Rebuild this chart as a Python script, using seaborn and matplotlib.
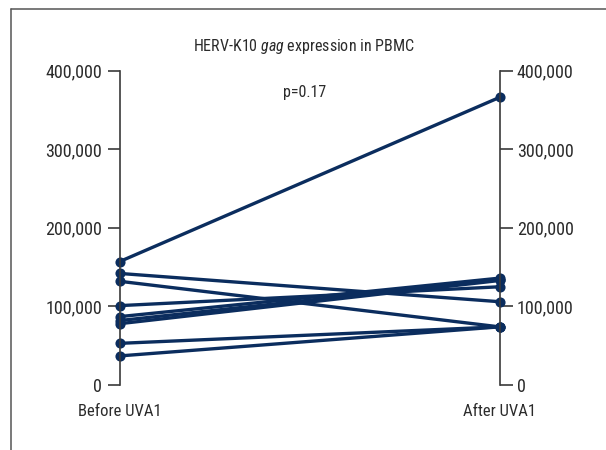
import matplotlib
matplotlib.use("Agg")
import matplotlib.pyplot as plt
from matplotlib import font_manager
from matplotlib.ticker import FuncFormatter
from matplotlib.lines import Line2D
import seaborn as sns
import pandas as pd

# ---- data ----
timepoints = ["Before UVA1", "After UVA1"]
subjects = ["S1", "S2", "S3", "S4", "S5", "S6", "S7", "S8", "S9"]
before = [157000, 142000, 132000, 101000, 87000, 82000, 78000, 53000, 37000]
after = [366000, 106000, 74000, 125000, 136000, 134000, 133000, 74000, 74000]
y_ticks = [0, 100000, 200000, 300000, 400000]
title_text = r"HERV-K10 $\mathit{gag}$ expression in PBMC"
p_text = "p=0.17"

rows = []
for s, b, a in zip(subjects, before, after):
    rows.append({"subject": s, "time": timepoints[0], "value": b})
    rows.append({"subject": s, "time": timepoints[1], "value": a})
df = pd.DataFrame(rows)

sns.set_theme(style="white")

# look for a condensed / narrow sans family
fam = None
stretch = "normal"
names = sorted({f.name for f in font_manager.fontManager.ttflist})
for cand in ["Liberation Sans Narrow", "Roboto Condensed", "Open Sans Condensed",
             "Noto Sans Condensed", "DejaVu Sans Condensed"]:
    if cand in names:
        fam = cand
        break
if fam is None:
    for f in font_manager.fontManager.ttflist:
        if ("Narrow" in f.name or "Condensed" in f.name) and "Mono" not in f.name and "Serif" not in f.name:
            fam = f.name
            break
if fam is None:
    for f in font_manager.fontManager.ttflist:
        if f.stretch in ("condensed", "semi-condensed", 75, 87.5) and "Mono" not in f.name \
                and "Serif" not in f.name and f.style == "normal":
            fam = f.name
            stretch = "condensed"
            break
condensed = fam is not None
if fam is None:
    fam = "Liberation Sans"

plt.rcParams["font.family"] = [fam, "DejaVu Sans"]
plt.rcParams["font.stretch"] = stretch
plt.rcParams["mathtext.fontset"] = "custom"
plt.rcParams["mathtext.rm"] = fam
plt.rcParams["mathtext.it"] = fam + ":italic"

if condensed:
    tick_fs, xlab_fs, title_fs = 13, 12, 11.5
else:
    tick_fs, xlab_fs, title_fs = 11, 10.5, 10.3

text_color = "#2b2b2b"
line_color = "#0b2d5e"
axis_color = "#3a3a3a"

fig = plt.figure(figsize=(6.06, 4.5), dpi=100)
ax = fig.add_axes([119.5 / 606, 1 - 385 / 450, (499.5 - 119.5) / 606, (385 - 70.7) / 450])

sns.lineplot(data=df, x="time", y="value", units="subject", estimator=None,
             color=line_color, marker="o", markersize=7.3, markeredgewidth=0,
             linewidth=2.4, ax=ax, legend=False)
for l in ax.lines:
    l.set_clip_on(False)

ax.set_xlim(0, 1)
ax.set_ylim(0, 400000)
ax.set_yticks(y_ticks)
ax.yaxis.set_major_formatter(FuncFormatter(lambda v, p: f"{int(v):,}"))
ax.set_xlabel("")
ax.set_ylabel("")
ax.set_title("")

for side in ["top", "bottom"]:
    ax.spines[side].set_visible(False)
for side in ["left", "right"]:
    ax.spines[side].set_visible(True)
    ax.spines[side].set_color(axis_color)
    ax.spines[side].set_linewidth(1.2)

ax.tick_params(axis="y", which="both", left=True, right=True, labelleft=True,
               labelright=True, direction="out", length=9, width=1.2,
               color=axis_color, pad=3.5, labelsize=tick_fs, labelcolor=text_color)
ax.tick_params(axis="x", bottom=False, length=0, pad=14, labelsize=xlab_fs, labelcolor=text_color)

fig.text(0.502, 1 - 47 / 450, title_text, ha="center", va="center", fontsize=title_fs, color=text_color)
fig.text(0.503, 1 - 93 / 450, p_text, ha="center", va="center", fontsize=title_fs, color=text_color)

# outer frame (top and left edges)
fig.add_artist(Line2D([10.8 / 606, 1.0], [1 - 8.5 / 450, 1 - 8.5 / 450],
                      transform=fig.transFigure, color="#555555", linewidth=1.1))
fig.add_artist(Line2D([10.8 / 606, 10.8 / 606], [1 - 8.5 / 450, 0.0],
                      transform=fig.transFigure, color="#555555", linewidth=1.1))

fig.savefig("out.png", dpi=100)
